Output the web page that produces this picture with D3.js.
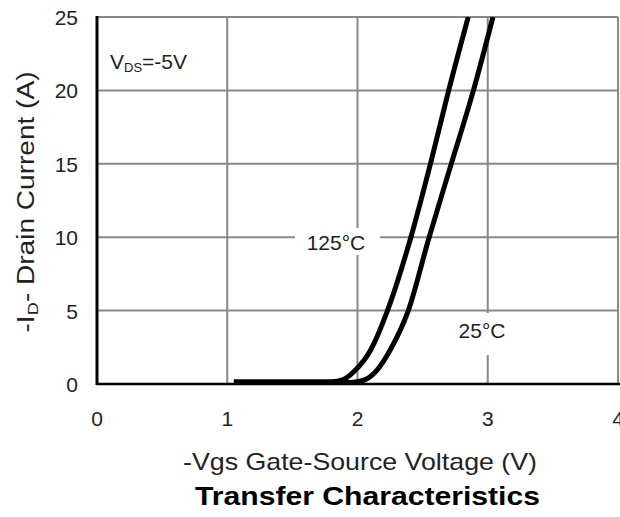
<!DOCTYPE html>
<html>
<head>
<meta charset="utf-8">
<script src="https://cdn.jsdelivr.net/npm/d3@7"></script>
<style>
  body { margin: 0; background: #fff; }
  text { font-family: "Liberation Sans", Arial, sans-serif; fill: #222; }
</style>
</head>
<body>
<div id="chart"></div>
<script>
const xTicks = [0, 1, 2, 3, 4];
const yTicks = [0, 5, 10, 15, 20, 25];

// -Vgs (V), -Id (A)
const vgs125 = [1.05, 1.80, 1.89, 1.985, 2.10, 2.23, 2.41, 2.56, 2.70, 2.85];
const id125  = [0.15, 0.15, 0.30, 0.95, 2.3, 5, 10, 15, 20, 25];
const vgs25  = [1.40, 1.95, 2.06, 2.15, 2.25, 2.39, 2.55, 2.72, 2.89, 3.04];
const id25   = [0.10, 0.10, 0.30, 0.95, 2.3, 5, 10, 15, 20, 25];

const width = 620;
const height = 517;
const marginLeft = 97, marginTop = 17, plotRight = 618, plotBottom = 384;

const svg = d3.select('#chart')
    .append('svg')
    .attr('width', width)
    .attr('height', height);

const xScale = d3.scaleLinear().domain([0, 4]).range([marginLeft, plotRight]);
const yScale = d3.scaleLinear().domain([0, 25]).range([plotBottom, marginTop]);

svg.append('clipPath').attr('id', 'clip')
    .append('rect')
    .attr('x', marginLeft).attr('y', marginTop)
    .attr('width', plotRight - marginLeft).attr('height', plotBottom - marginTop);

// grid
svg.append('g')
    .selectAll('line')
    .data(xTicks.slice(1))
    .enter().append('line')
    .attr('x1', d => xScale(d)).attr('x2', d => xScale(d))
    .attr('y1', marginTop).attr('y2', plotBottom)
    .attr('stroke', '#888').attr('stroke-width', 2);

svg.append('g')
    .selectAll('line')
    .data(yTicks.slice(1))
    .enter().append('line')
    .attr('x1', marginLeft).attr('x2', plotRight)
    .attr('y1', d => yScale(d)).attr('y2', d => yScale(d))
    .attr('stroke', '#888').attr('stroke-width', 2);

// white boxes behind the curve labels
svg.append('rect').attr('x', 295).attr('y', 228).attr('width', 85).attr('height', 27).attr('fill', '#fff');
svg.append('rect').attr('x', 452).attr('y', 313).attr('width', 62).attr('height', 42).attr('fill', '#fff');

// axes lines
svg.append('line')
    .attr('x1', marginLeft).attr('x2', marginLeft)
    .attr('y1', marginTop - 1).attr('y2', plotBottom + 1)
    .attr('stroke', '#000').attr('stroke-width', 3);
svg.append('line')
    .attr('x1', marginLeft).attr('x2', width)
    .attr('y1', plotBottom).attr('y2', plotBottom)
    .attr('stroke', '#000').attr('stroke-width', 2.5);

// tick labels
svg.append('g')
    .selectAll('text')
    .data(xTicks)
    .enter().append('text')
    .attr('x', d => xScale(d))
    .attr('y', 426)
    .attr('text-anchor', 'middle')
    .attr('font-size', 21)
    .text(d => d);

svg.append('g')
    .selectAll('text')
    .data(yTicks)
    .enter().append('text')
    .attr('x', 78)
    .attr('y', d => yScale(d) + 8)
    .attr('text-anchor', 'end')
    .attr('font-size', 21)
    .text(d => d);

svg.append('text')
    .attr('x', 336).attr('y', 250)
    .attr('text-anchor', 'middle')
    .attr('font-size', 21)
    .text('125°C');
svg.append('text')
    .attr('x', 482).attr('y', 338)
    .attr('text-anchor', 'middle')
    .attr('font-size', 21)
    .text('25°C');

// curves
const line = d3.line()
    .x(d => xScale(d[0]))
    .y(d => yScale(d[1]))
    .curve(d3.curveMonotoneX);

[[vgs125, id125], [vgs25, id25]].forEach(s => {
    svg.append('path')
        .datum(d3.zip(s[0], s[1]))
        .attr('clip-path', 'url(#clip)')
        .attr('d', line)
        .attr('fill', 'none')
        .attr('stroke', '#000')
        .attr('stroke-width', 5);
});

// VDS label
const vds = svg.append('text')
    .attr('x', 110).attr('y', 69)
    .attr('font-size', 21);
vds.append('tspan').text('V');
vds.append('tspan').attr('font-size', 13).attr('dy', 3).text('DS');
vds.append('tspan').attr('dy', -3).text('=-5V');

// axis titles
const yTitle = svg.append('text')
    .attr('transform', 'translate(34,202) rotate(-90)')
    .attr('text-anchor', 'middle')
    .attr('font-size', 23)
    .attr('textLength', 261)
    .attr('lengthAdjust', 'spacingAndGlyphs');
yTitle.append('tspan').text('-I');
yTitle.append('tspan').attr('font-size', 15).attr('dy', 4).text('D');
yTitle.append('tspan').attr('dy', -4).text('- Drain Current (A)');

svg.append('text')
    .attr('x', 183).attr('y', 470)
    .attr('font-size', 24)
    .attr('textLength', 354)
    .attr('lengthAdjust', 'spacingAndGlyphs')
    .text('-Vgs Gate-Source Voltage (V)');

svg.append('text')
    .attr('x', 195).attr('y', 505)
    .attr('font-size', 26)
    .attr('font-weight', 'bold')
    .attr('textLength', 345)
    .attr('lengthAdjust', 'spacingAndGlyphs')
    .style('fill', '#000')
    .text('Transfer Characteristics');
</script>
</body>
</html>
